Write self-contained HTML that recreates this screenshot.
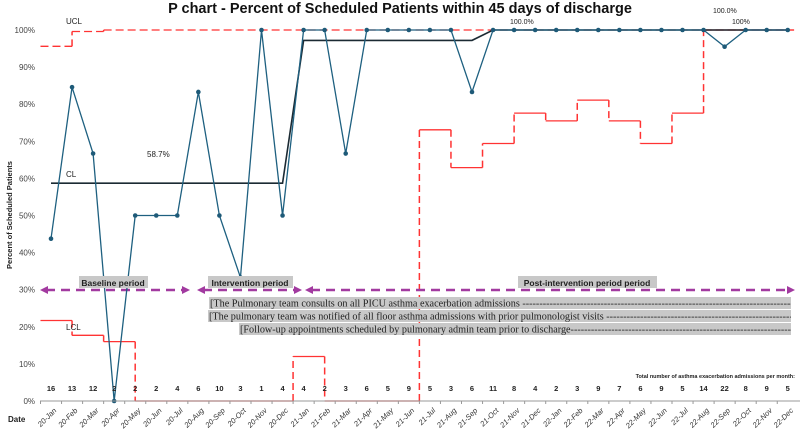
<!DOCTYPE html>
<html><head><meta charset="utf-8"><style>
body{margin:0;background:#fff;}
svg text{font-family:"Liberation Sans",sans-serif;}
</style></head><body>
<svg id="c" width="800" height="432" xmlns="http://www.w3.org/2000/svg">
<defs><clipPath id="nclip"><rect x="200" y="290" width="591" height="50"/></clipPath></defs>
<text x="400" y="13" text-anchor="middle" font-size="14.5" font-weight="bold" fill="#111">P chart - Percent of Scheduled Patients within 45 days of discharge</text>
<g id="yax"></g>
<text transform="translate(12,215) rotate(-90)" text-anchor="middle" font-size="7.5" font-weight="bold" fill="#222">Percent of Scheduled Patients</text>
<g id="lims"></g>
<g id="arrows"></g>
<g id="series"></g>
<g id="xax"></g>
<text x="66" y="24" font-size="8" fill="#222">UCL</text>
<text x="66" y="177" font-size="8" fill="#222">CL</text>
<text x="147" y="157" font-size="8" fill="#222">58.7%</text>
<text x="66" y="330" font-size="8" fill="#222">LCL</text>
<text x="510" y="24" font-size="7" fill="#222">100.0%</text>
<text x="713" y="13" font-size="7" fill="#222">100.0%</text>
<text x="732" y="24" font-size="7" fill="#222">100%</text>
<text x="795" y="378" text-anchor="end" font-size="5.5" font-weight="bold" fill="#222">Total number of asthma exacerbation admissions per month:</text>
<text x="8" y="422" font-size="8" font-weight="bold" fill="#222">Date</text>
<g>
<rect x="79" y="276" width="69" height="12" fill="#c8c8c8"/>
<text x="113" y="286" text-anchor="middle" font-size="8.5" font-weight="bold" fill="#222">Baseline period</text>
<rect x="208" y="276" width="85" height="12" fill="#c8c8c8"/>
<text x="250" y="286" text-anchor="middle" font-size="8.5" font-weight="bold" fill="#222">Intervention  period</text>
<rect x="518" y="276" width="139" height="12" fill="#c8c8c8"/>
<text x="587" y="286" text-anchor="middle" font-size="8.5" font-weight="bold" fill="#222">Post-intervention period   period</text>
<g clip-path="url(#nclip)">
<rect x="209" y="297" width="582" height="12" fill="#c8c8c8"/>
<text x="210" y="306.5" font-size="10.2" fill="#222" style="font-family:'Liberation Serif',serif">[The Pulmonary team consults on all PICU asthma exacerbation admissions ----------------------------------------------------------------------------------------------------</text>
<rect x="208" y="310" width="583" height="12" fill="#c8c8c8"/>
<text x="209" y="319.5" font-size="10.2" fill="#222" style="font-family:'Liberation Serif',serif">[The pulmonary team was notified of all floor asthma admissions with prior pulmonologist visits ------------------------------------------------------------------------</text>
<rect x="239" y="323" width="552" height="12" fill="#c8c8c8"/>
<text x="240" y="332.5" font-size="10.2" fill="#222" style="font-family:'Liberation Serif',serif">[Follow-up appointments scheduled by pulmonary admin team prior to discharge----------------------------------------------------------------------------------</text>
</g>
</g>
</svg>
<script>
const months=["20-Jan","20-Feb","20-Mar","20-Apr","20-May","20-Jun","20-Jul","20-Aug","20-Sep","20-Oct","20-Nov","20-Dec","21-Jan","21-Feb","21-Mar","21-Apr","21-May","21-Jun","21-Jul","21-Aug","21-Sep","21-Oct","21-Nov","21-Dec","22-Jan","22-Feb","22-Mar","22-Apr","22-May","22-Jun","22-Jul","22-Aug","22-Sep","22-Oct","22-Nov","22-Dec"];
const pct=[43.75,84.6,66.7,0,50,50,50,83.3,50,33.3,100,50,100,100,66.7,100,100,100,100,100,83.3,100,100,100,100,100,100,100,100,100,100,100,95.5,100,100,100];
const counts=[16,13,12,2,2,2,4,6,10,3,1,4,4,2,3,6,5,9,5,3,6,11,8,4,2,3,9,7,6,9,5,14,22,8,9,5];
const clVals=[58.7,58.7,58.7,58.7,58.7,58.7,58.7,58.7,58.7,58.7,58.7,58.7,97.2,97.2,97.2,97.2,97.2,97.2,97.2,97.2,97.2,100,100,100,100,100,100,100,100,100,100,100,100,100,100,100];
const lclBounds=[-0.5,1,2.5,4,11.5,13,17.5,19,20.5,22,23.5,25,26.5,28,29.5,31,35.3];
const lclVals=[21.7,17.7,16,0,12,0,73.1,62.9,69.4,77.6,75.5,81.1,75.5,69.4,77.6,100];
const uclBounds=[-0.5,1,2.5,35.3];
const uclVals=[95.6,99.6,100];
const yTicks=[0,10,20,30,40,50,60,70,80,90,100];
const NS="http://www.w3.org/2000/svg";
const X=i=>51+21.05*i, Y=v=>401-3.71*v;
function mk(p,t,a){const e=document.createElementNS(NS,t);for(const k in a)e.setAttribute(k,a[k]);p.appendChild(e);return e;}
const g=id=>document.getElementById(id);
yTicks.forEach(v=>{const t=mk(g('yax'),'text',{x:35,y:Y(v)+3,'text-anchor':'end','font-size':8,fill:'#444'});t.textContent=v+'%';

});
mk(g('xax'),'line',{x1:40,y1:Y(0),x2:800,y2:Y(0),stroke:'#999','stroke-width':1});
months.forEach((m,i)=>{
 mk(g('xax'),'line',{x1:X(i)-10.5,y1:Y(0),x2:X(i)-10.5,y2:Y(0)+3,stroke:'#999'});
 const t=mk(g('xax'),'text',{transform:`translate(${X(i)+6},${Y(0)+10}) rotate(-45)`,'text-anchor':'end','font-size':7.5,'font-style':'italic',fill:'#333'});t.textContent=m;
 
 
 const c=mk(g('xax'),'text',{x:X(i),y:391,'text-anchor':'middle','font-size':7.5,'font-weight':'bold',fill:'#222'});c.textContent=counts[i];
 
 
});
function steps(bounds,vals,nameH,dashH){
 for(let k=0;k<vals.length;k++){
  const h=mk(g('lims'),'line',{x1:X(bounds[k]),y1:Y(vals[k]),x2:X(bounds[k+1]),y2:Y(vals[k]),stroke:'#f33','stroke-width':1.3});
  if(dashH)h.setAttribute('stroke-dasharray','8 4');
  
  
  if(k>0){const v=mk(g('lims'),'line',{x1:X(bounds[k]),y1:Y(vals[k-1]),x2:X(bounds[k]),y2:Y(vals[k]),stroke:'#f33','stroke-width':1.5,'stroke-dasharray':'7 4'});
  
  }
 }
}
steps(lclBounds,lclVals,'lcl-segment',false);
steps(uclBounds,uclVals,'ucl-segment',true);
const cl=mk(g('lims'),'polyline',{points:clVals.map((v,i)=>X(i)+','+Y(v)).join(' '),fill:'none',stroke:'#1b2a33','stroke-width':1.6});


[[40,190],[197,302],[305,795]].forEach(([a,b])=>{
 const l=mk(g('arrows'),'line',{x1:a+6,y1:290,x2:b-6,y2:290,stroke:'#a23aa0','stroke-width':2.6,'stroke-dasharray':'9 6'});
 
 
 mk(g('arrows'),'polygon',{points:`${a},290 ${a+8},286 ${a+8},294`,fill:'#a23aa0'});
 mk(g('arrows'),'polygon',{points:`${b},290 ${b-8},286 ${b-8},294`,fill:'#a23aa0'});
});
const pl=mk(g('series'),'polyline',{points:pct.map((v,i)=>X(i)+','+Y(v)).join(' '),fill:'none',stroke:'#1e6080','stroke-width':1.3});


pct.forEach((v,i)=>{const c=mk(g('series'),'circle',{cx:X(i),cy:Y(v),r:2.3,fill:'#1e5a78'});

});
</script>
</body></html>
